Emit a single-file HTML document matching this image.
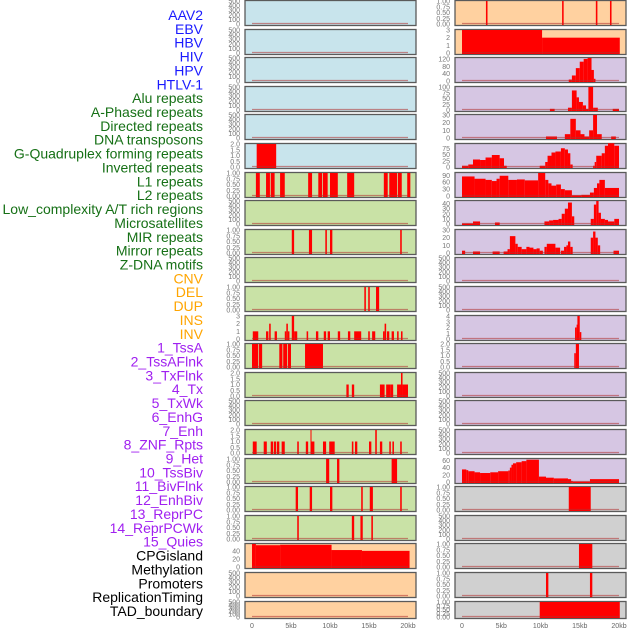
<!DOCTYPE html>
<html><head><meta charset="utf-8"><style>
html,body{margin:0;padding:0;background:#fff;}
svg{display:block;font-family:"Liberation Sans",sans-serif;}
</style></head><body>
<svg id="chart" width="630" height="630" viewBox="0 0 630 630" xmlns="http://www.w3.org/2000/svg"></svg>
<script>
const labels = ["AAV2","EBV","HBV","HIV","HPV","HTLV-1","Alu repeats","A-Phased repeats","Directed repeats","DNA transposons","G-Quadruplex forming repeats","Inverted repeats","L1 repeats","L2 repeats","Low_complexity A/T rich regions","Microsatellites","MIR repeats","Mirror repeats","Z-DNA motifs","CNV","DEL","DUP","INS","INV","1_TssA","2_TssAFlnk","3_TxFlnk","4_Tx","5_TxWk","6_EnhG","7_Enh","8_ZNF_Rpts","9_Het","10_TssBiv","11_BivFlnk","12_EnhBiv","13_ReprPC","14_ReprPCWk","15_Quies","CPGisland","Methylation","Promoters","ReplicationTiming","TAD_boundary"];
const xTickLabels = ["0","5kb","10kb","15kb","20kb"];
const xTickValues = [0,5,10,15,20];
const ticksEmpty = [0,100,200,300,400,500];
const ticks01 = [0,0.25,0.5,0.75,1];
const ticks02 = [0,0.5,1,1.5,2];
const ticks03 = [0,1,2,3];
// bars: [startKb, endKb, value]
const htlvBars = [[0.6,3.1,2]];
const aluBars = [[0.5,1.0,1],[1.8,2.3,1],[2.4,2.9,1],[3.6,4.2,1],[7.2,7.7,1],[8.5,9.0,1],[9.1,9.7,1],[10.0,11.0,1],[12.2,13.1,1],[16.9,17.4,1],[17.6,18.6,1],[18.7,19.2,1],[19.9,20.3,1]];
const directedBars = [[5.1,5.4,1],[7.3,7.7,1],[9.4,9.6,1],[10.0,10.3,1],[19.0,19.2,1]];
const gquadBars = [[14.4,14.6,1],[14.9,15.1,1],[15.9,16.3,1]];
const invertedBars = [[0.1,0.8,1],[1.8,2.1,1],[2.2,2.4,2],[2.9,3.2,1],[4.2,4.4,1],[4.4,4.6,2],[4.6,4.8,1],[5.1,5.4,3],[5.4,5.8,1],[7.0,7.2,1],[8.2,8.5,1],[9.2,9.5,1],[9.7,10.0,1],[11.0,11.3,1],[12.3,12.6,1],[13.1,14.0,1],[14.9,15.1,1],[15.4,15.8,1],[16.8,17.0,1],[17.0,17.2,2],[17.3,17.6,1],[17.9,18.2,1],[18.6,18.8,1],[19.1,19.3,1]];
const l1Bars = [[0,0.8,1],[0.9,1.3,1],[3.5,3.9,1],[4.0,4.5,1],[4.6,5.0,1],[6.8,9.1,1]];
const l2Bars = [[12.1,12.4,1],[12.8,13.1,1],[16.4,17.0,1],[17.2,17.8,1],[17.8,18.1,1],[18.6,19.1,1],[19.1,19.3,2],[19.3,20.0,1]];
const mirBars = [[0.1,0.6,1],[1.5,1.9,1],[2.4,2.7,1],[2.8,3.1,1],[3.2,3.5,1],[3.8,4.2,1],[5.8,6.0,1],[6.9,7.2,1],[7.5,7.6,2],[7.6,8.0,1],[9.1,9.5,1],[9.9,10.6,1],[12.8,13.0,1],[13.2,13.5,1],[15.0,15.3,1],[15.8,16.0,2],[16.4,16.7,1],[17.6,17.8,1],[18.0,18.2,1],[19.0,19.2,1]];
const mirrorBars = [[9.5,9.9,1],[10.9,11.2,1],[17.9,18.6,1]];
const zdnaBars = [[5.6,5.9,1],[7.4,7.7,1],[10.0,10.3,1],[14.0,14.2,1],[15.1,15.5,1],[19.0,19.2,1]];
const cnvBars = [[5.8,6.0,1],[12.8,13.1,1],[13.9,14.2,1],[15.3,15.5,1]];
const delBars = [[0,0.5,57],[0.5,3.6,54],[3.6,10.2,55],[10.2,14.1,42],[14.1,20.2,40]];
const insBars = [[3.05,3.25,1],[12.75,12.95,1],[17.05,17.25,1],[18.85,19.05,1]];
const invBars = [[0,10.2,3],[10.2,20.1,2]];
const tssaBars = [[13.6,14.0,8],[14.0,14.5,30],[14.5,15.0,70],[15.0,15.5,105],[15.5,16.0,120],[16.0,16.5,125],[16.5,16.8,60],[16.8,17.0,12]];
const tssaflnkBars = [[11.2,11.8,5],[13.5,14.0,10],[14.0,14.6,85],[14.6,14.9,55],[14.9,15.4,35],[15.4,15.8,20],[15.8,16.1,5],[16.1,16.7,100],[16.7,17.3,10],[19.2,20.0,5]];
const txflnkBars = [[10.7,12.1,2],[13.1,13.8,5],[13.8,14.5,25],[14.5,15.1,10],[15.1,15.6,5],[15.6,16.2,2],[16.2,16.7,10],[16.7,17.2,30],[17.2,17.8,5],[19.0,19.6,2]];
const txBars = [[0,0.8,5],[0.8,1.4,10],[1.4,2.3,30],[2.3,3.0,28],[3.0,3.8,38],[3.8,4.8,48],[4.8,5.35,35],[5.35,5.7,5],[9.9,10.6,5],[10.6,10.9,20],[10.9,11.4,45],[11.4,11.9,58],[11.9,12.6,62],[12.6,13.1,75],[13.1,13.5,70],[13.5,13.8,55],[13.8,14.1,10],[16.7,16.9,5],[16.9,17.1,20],[17.1,17.8,45],[17.8,18.2,55],[18.2,18.6,85],[18.6,19.4,95],[19.4,20.0,85]];
const txwkBars = [[0,1.6,85],[1.6,3.0,75],[3.0,3.8,70],[3.8,4.4,65],[4.4,4.8,75],[4.8,5.9,88],[5.9,7.0,70],[7.0,8.0,72],[8.0,9.7,68],[9.7,10.6,100],[10.6,11.0,70],[11.0,11.4,55],[11.4,12.0,45],[12.0,12.6,50],[12.6,13.1,30],[13.1,14.0,25],[14.0,15.2,3],[15.2,16.3,5],[16.3,16.8,15],[16.8,17.2,35],[17.2,17.5,55],[17.5,18.2,70],[18.2,20.0,35]];
const enhgBars = [[0,1.4,1],[1.4,2.3,5],[4.2,4.8,3],[10.5,11.1,5],[11.1,11.6,7],[11.6,12.3,8],[12.3,12.7,10],[12.7,13.1,20],[13.1,13.5,30],[13.5,14.0,42],[14.0,14.3,15],[16.4,16.8,10],[16.8,17.1,38],[17.1,17.4,45],[17.4,17.7,22],[17.7,18.2,10],[18.2,18.6,8],[18.6,19.4,5],[19.4,20.0,10]];
const enhBars = [[0,0.4,3],[1.4,2.3,2],[3.9,4.8,2],[5.3,5.8,2],[5.8,6.1,5],[6.1,6.8,22],[6.8,7.1,12],[7.1,7.6,8],[7.6,8.2,5],[8.2,8.6,8],[8.6,9.1,7],[9.1,9.5,5],[9.5,9.9,6],[9.9,10.3,3],[10.5,10.8,8],[10.8,11.9,12],[11.9,12.5,7],[12.6,13.0,3],[13.0,13.3,8],[13.3,13.5,10],[13.5,13.8,15],[13.8,14.1,8],[16.4,16.7,20],[16.7,17.0,28],[17.0,17.3,20],[17.3,17.6,10],[19.3,20.0,3]];
const tssbivBars = [[14.4,14.6,2],[14.6,14.7,2.5],[14.7,15.0,4],[15.0,15.2,1.2]];
const bivflnkBars = [[14.3,14.5,1.2],[14.5,14.9,2]];
const quiesBars = [[0,0.55,35],[0.55,0.8,33],[0.8,1.6,30],[1.6,2.3,27],[2.3,3.6,25],[3.6,4.6,27],[4.6,5.9,30],[5.9,6.1,32],[6.1,6.3,40],[6.3,6.5,48],[6.5,6.9,52],[6.9,7.6,55],[7.6,8.2,58],[8.2,9.8,62],[9.8,10.7,15],[10.7,11.7,12],[11.7,13.5,10],[13.5,13.9,8],[13.9,14.1,3],[14.1,16.3,1],[16.3,20.0,8]];
const cpgBars = [[13.6,16.4,1]];
const promoterBars = [[14.9,16.6,1]];
const repTimingBars = [[10.7,11.0,1],[16.3,16.6,1]];
const tadBars = [[9.9,20.1,1]];

const BG = {blue:"#c8e4ec",green:"#c9e2a6",orange:"#ffd1a0",purple:"#d6c6e3",gray:"#d0d0d0"};
// panel specs: [label index, column, row, bgKey, ticks, tickFmt, ymax, bars]
const panels = [
 [0,0,0,"blue",ticksEmpty,0,500,[]],[1,0,1,"blue",ticksEmpty,0,500,[]],[2,0,2,"blue",ticksEmpty,0,500,[]],
 [3,0,3,"blue",ticksEmpty,0,500,[]],[4,0,4,"blue",ticksEmpty,0,500,[]],[5,0,5,"blue",ticks02,1,2,htlvBars],
 [6,0,6,"green",ticks01,2,1,aluBars],[7,0,7,"green",ticksEmpty,0,500,[]],[8,0,8,"green",ticks01,2,1,directedBars],
 [9,0,9,"green",ticksEmpty,0,500,[]],[10,0,10,"green",ticks01,2,1,gquadBars],[11,0,11,"green",ticks03,0,3,invertedBars],
 [12,0,12,"green",ticks01,2,1,l1Bars],[13,0,13,"green",ticks02,1,2,l2Bars],[14,0,14,"green",ticksEmpty,0,500,[]],
 [15,0,15,"green",ticks02,1,2,mirBars],[16,0,16,"green",ticks01,2,1,mirrorBars],[17,0,17,"green",ticks01,2,1,zdnaBars],
 [18,0,18,"green",ticks01,2,1,cnvBars],[19,0,19,"orange",[0,20,40],0,57,delBars],[20,0,20,"orange",ticksEmpty,0,500,[]],
 [21,0,21,"orange",ticksEmpty,0,500,[]],
 [22,1,0,"orange",ticks01,2,1,insBars],[23,1,1,"orange",ticks03,0,3,invBars],[24,1,2,"purple",[0,40,80,120],0,125,tssaBars],
 [25,1,3,"purple",[0,25,50,75,100],0,100,tssaflnkBars],[26,1,4,"purple",[0,10,20,30],0,30,txflnkBars],[27,1,5,"purple",[0,25,50,75],0,92,txBars],
 [28,1,6,"purple",[0,30,60,90],0,100,txwkBars],[29,1,7,"purple",[0,10,20,30,40],0,45,enhgBars],[30,1,8,"purple",[0,10,20,30],0,30,enhBars],
 [31,1,9,"purple",ticksEmpty,0,500,[]],[32,1,10,"purple",ticksEmpty,0,500,[]],[33,1,11,"purple",[0,1,2,3,4],0,4,tssbivBars],
 [34,1,12,"purple",ticks02,1,2,bivflnkBars],[35,1,13,"purple",ticksEmpty,0,500,[]],[36,1,14,"purple",ticksEmpty,0,500,[]],
 [37,1,15,"purple",ticksEmpty,0,500,[]],[38,1,16,"purple",[0,20,40,60],0,64,quiesBars],[39,1,17,"gray",ticks01,2,1,cpgBars],
 [40,1,18,"gray",ticksEmpty,0,500,[]],[41,1,19,"gray",ticks01,2,1,promoterBars],[42,1,20,"gray",ticks01,2,1,repTimingBars],
 [43,1,21,"gray",ticks01,2,1,tadBars]
];
const NS="http://www.w3.org/2000/svg";
const svg=document.getElementById("chart");
function mk(tag,attrs,parent){const e=document.createElementNS(NS,tag);for(const k in attrs)e.setAttribute(k,attrs[k]);(parent||svg).appendChild(e);return e;}
const colX=[{box0:245,box1:416,x0:252,x1:408,tickX:240},{box0:455,box1:626,x0:462,x1:619,tickX:450}];
function rowTop(r){return Math.round(r*28.6);}
function rowH(r){return r===21?17:25;}
function xScale(c,kb){const s=colX[c];return s.x0+(s.x1-s.x0)*kb/20;}
function yScale(top,h,v,ymax){return (top+h-1)-(h-2)*v/ymax;}
function labelColor(i){if(i<6)return"#1a1aff";if(i<19)return"#167016";if(i<24)return"#ffa500";if(i<39)return"#a020f0";return"#000";}
// left labels
labels.forEach((t,i)=>{
  const el=mk("text",{x:203,y:20+i*13.86,"text-anchor":"end","font-size":"14",fill:labelColor(i)});
  el.textContent=t;
  
  
});
panels.forEach(p=>{
  const [li,c,r,bg,ticks,fmt,ymax,bars]=p;
  const s=colX[c],top=rowTop(r),h=rowH(r);
  const g=mk("g",{});
  
  
  const bgr=mk("rect",{x:s.box0,y:top+0.5,width:s.box1-s.box0,height:h,fill:BG[bg],stroke:"#5a5a5a","stroke-width":1.3},g);
  
  
  bars.forEach(b=>{
    const xa=xScale(c,b[0]),xb=xScale(c,b[1]);
    const yv=yScale(top,h,b[2],ymax);
    const rc=mk("rect",{x:xa,y:yv,width:Math.max(xb-xa,1),height:top+h-yv,fill:"#ff0000"},g);
    
    
  });
  const base=yScale(top,h,0,ymax);
  const bl=mk("line",{x1:xScale(c,0),x2:xScale(c,20),y1:base-0.5,y2:base-0.5,stroke:"#b03030","stroke-width":1.2,"stroke-opacity":0.55},g);
  
  
  ticks.forEach(v=>{
    const t=mk("text",{x:s.tickX,y:yScale(top,h,v,ymax)+2.5,"text-anchor":"end","font-size":"7",fill:"#777"},g);
    t.textContent=v.toFixed(fmt);
    
    
  });
});
[0,1].forEach(c=>{
  xTickValues.forEach((v,i)=>{
    const t=mk("text",{x:xScale(c,v),y:628,"text-anchor":"middle","font-size":"7",fill:"#666"});
    t.textContent=xTickLabels[i];
    
    
  });
});
</script>
</body></html>
